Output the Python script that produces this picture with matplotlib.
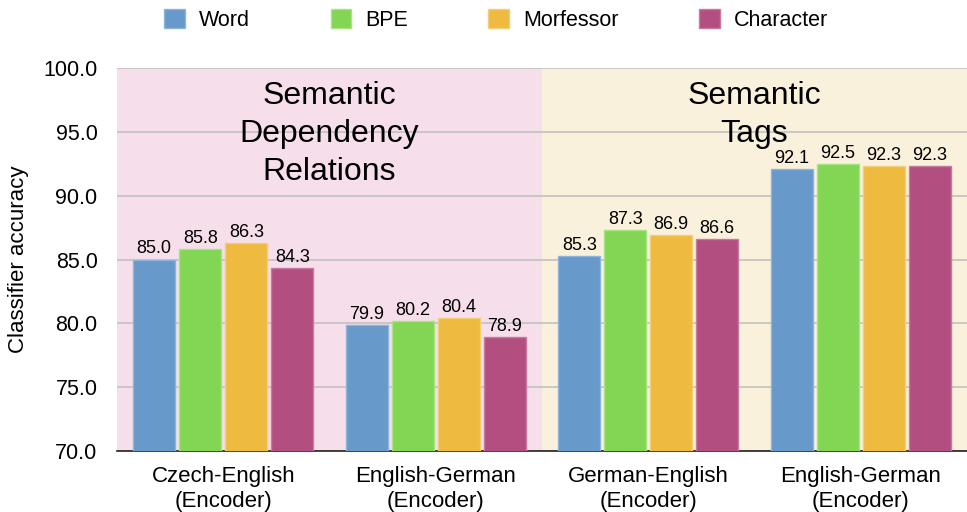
import matplotlib
matplotlib.use("Agg")
import matplotlib.pyplot as plt
import numpy as np

plt.rcParams['font.family'] = ['Liberation Sans', 'DejaVu Sans']

groups = ["Czech-English\n(Encoder)", "English-German\n(Encoder)",
          "German-English\n(Encoder)", "English-German\n(Encoder)"]
series = ["Word", "BPE", "Morfessor", "Character"]
word = [85.0, 79.9, 85.3, 92.1]
bpe = [85.8, 80.2, 87.3, 92.5]
morfessor = [86.3, 80.4, 86.9, 92.3]
character = [84.3, 78.9, 86.6, 92.3]
yticks = [70.0, 75.0, 80.0, 85.0, 90.0, 95.0, 100.0]

values = [word, bpe, morfessor, character]
colors = ["#6899CB", "#83D654", "#EEBA40", "#B24F80"]
edges = ["#8FB3DA", "#A6E484", "#F4CE76", "#C97AA0"]

fig = plt.figure(figsize=(9.67, 5.12), dpi=100)
ax = fig.add_axes([117/967, 1 - 451/512, (967-117)/967, (451-68)/512])

ax.axvspan(-0.5, 1.5, color="#F6DFEA", zorder=0, lw=0)
ax.axvspan(1.5, 3.5, color="#FAF1DC", zorder=0, lw=0)

x = np.arange(len(groups))
stride = 0.2165
width = 0.198
for i, (vals, c, ec) in enumerate(zip(values, colors, edges)):
    offs = (i - 1.5) * stride
    ax.bar(x + offs, vals, width, color=c, edgecolor=ec, linewidth=1,
           label=series[i], zorder=3)
    for xi, v in zip(x + offs, vals):
        ax.annotate(f"{v:.1f}", (xi, v), xytext=(0, 1.5),
                    textcoords="offset points", ha="center", va="bottom",
                    fontsize=13, zorder=4)

ax.set_xlim(-0.5, 3.5)
ax.set_ylim(70, 100)
ax.set_yticks(yticks)
ax.set_yticklabels([f"{t:.1f}" for t in yticks], fontsize=15.5)
ax.yaxis.grid(True, color="#C2C2C2", linewidth=1.2, zorder=1)
ax.set_axisbelow(True)
ax.tick_params(axis="y", length=0, pad=14)
ax.set_xticks(x)
ax.set_xticklabels(groups, fontsize=16, linespacing=1.22)
ax.tick_params(axis="x", length=0, pad=11)
for s in ["top", "right", "left"]:
    ax.spines[s].set_visible(False)
ax.spines["bottom"].set_color("#222222")
ax.spines["bottom"].set_linewidth(1.2)
ax.set_ylabel("Classifier accuracy", fontsize=16, labelpad=10)

ax.text(0.5, 98.95, "Semantic\nDependency\nRelations", ha="center", va="top",
        fontsize=23, linespacing=1.33, zorder=5)
ax.text(2.5, 98.95, "Semantic\nTags", ha="center", va="top",
        fontsize=23, linespacing=1.33, zorder=5)

handles, labels = ax.get_legend_handles_labels()
fig.legend(handles, labels, loc="center", bbox_to_anchor=(0.513, 1 - 20/512),
           ncol=4, frameon=False, fontsize=15.5, handlelength=0.95,
           handleheight=1.0, columnspacing=3.75, handletextpad=0.65)

fig.savefig("out.png", dpi=100)
